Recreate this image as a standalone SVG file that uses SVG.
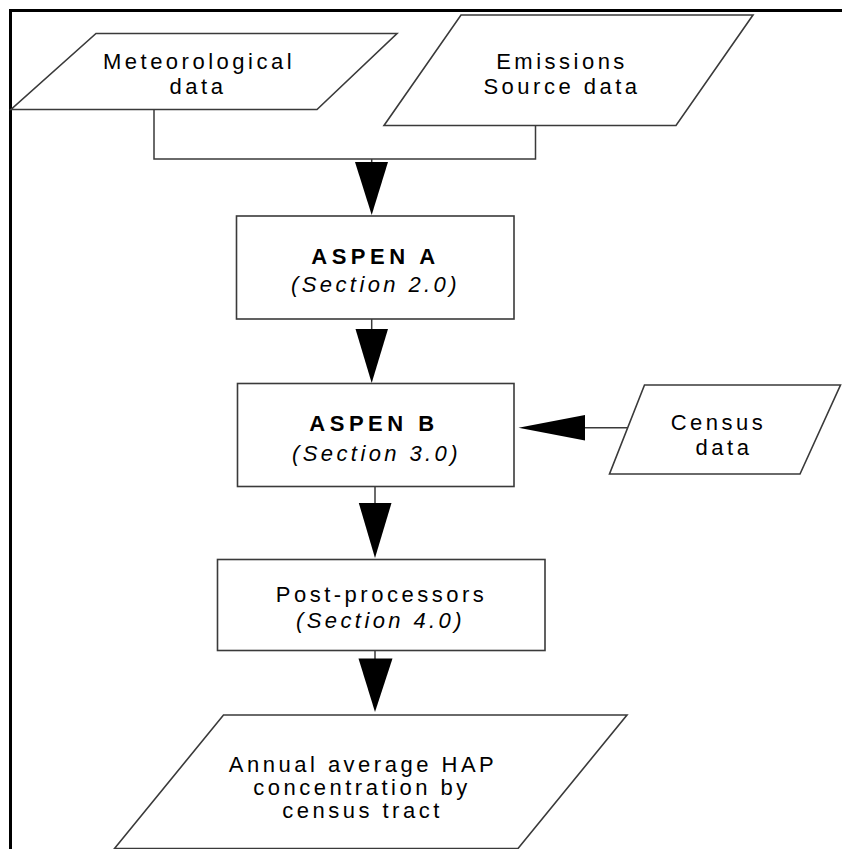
<svg xmlns="http://www.w3.org/2000/svg" width="842" height="849" viewBox="0 0 842 849">
<defs>
<style>
.shape{fill:#fff;stroke:#3a3a3a;stroke-width:1.6}
.conn{fill:none;stroke:#3a3a3a;stroke-width:1.5}
.head{fill:#000;stroke:none}
text{font-family:"Liberation Sans",Arial,sans-serif;font-size:22px;fill:#000;text-anchor:middle;letter-spacing:3.5px}
.b{font-weight:bold;letter-spacing:4.5px}
.i{font-style:italic;letter-spacing:3.4px}
</style>
</defs>
<rect width="842" height="849" fill="#fff"/>
<path d="M10.5,849 V10.5 H842" fill="none" stroke="#000" stroke-width="3"/>
<g id="connectors">
<polyline class="conn" points="154,109.5 154,159 535.5,159 535.5,125.5"/>
<line class="conn" x1="371.7" y1="159" x2="371.7" y2="163"/>
<polygon class="head" points="355,162 388,162 371.7,215"/>
<line class="conn" x1="371.7" y1="319" x2="371.7" y2="330"/>
<polygon class="head" points="355.5,329 388,329 371.7,383"/>
<line class="conn" x1="636" y1="427.7" x2="584" y2="427.7"/>
<polygon class="head" points="585,415 585,440.5 518.5,427.7"/>
<line class="conn" x1="375" y1="487" x2="375" y2="504"/>
<polygon class="head" points="358.8,503 391.5,503 375,558"/>
<line class="conn" x1="375" y1="651" x2="375" y2="659"/>
<polygon class="head" points="358.5,658.5 392.5,658.5 375,712"/>
</g>
<g id="meteorological">
<polygon class="shape" points="96,33.5 397,33.5 317,109.5 11,109.5"/>
<text x="199" y="69.3">Meteorological</text>
<text x="198" y="94">data</text>
</g>
<g id="emissions">
<polygon class="shape" points="461,15 753,15 676,125.5 384,125.5"/>
<text x="562" y="69.3">Emissions</text>
<text x="562" y="94">Source data</text>
</g>
<g id="aspenA">
<rect class="shape" x="236.5" y="216" width="277.5" height="103"/>
<text class="b" x="375.5" y="264">ASPEN A</text>
<text class="i" x="375.5" y="291.5">(Section 2.0)</text>
</g>
<g id="aspenB">
<rect class="shape" x="237.5" y="383.5" width="276.5" height="103"/>
<text class="b" x="374" y="431.3">ASPEN B</text>
<text class="i" x="376.5" y="460.5">(Section 3.0)</text>
</g>
<g id="census">
<polygon class="shape" points="644.5,385 840.5,385 800,474 609.5,474"/>
<text x="718.5" y="429.5">Census</text>
<text x="724" y="455">data</text>
</g>
<g id="postprocessors">
<rect class="shape" x="217.5" y="559.5" width="327.5" height="91"/>
<text x="381.5" y="601.7">Post-processors</text>
<text class="i" x="380.5" y="628">(Section 4.0)</text>
</g>
<g id="annual">
<polygon class="shape" points="223.5,715 627,715 518,848.5 114.5,848.5"/>
<text x="363" y="771.7">Annual average HAP</text>
<text x="362" y="795">concentration by</text>
<text x="362.5" y="818.3">census tract</text>
</g>
</svg>
